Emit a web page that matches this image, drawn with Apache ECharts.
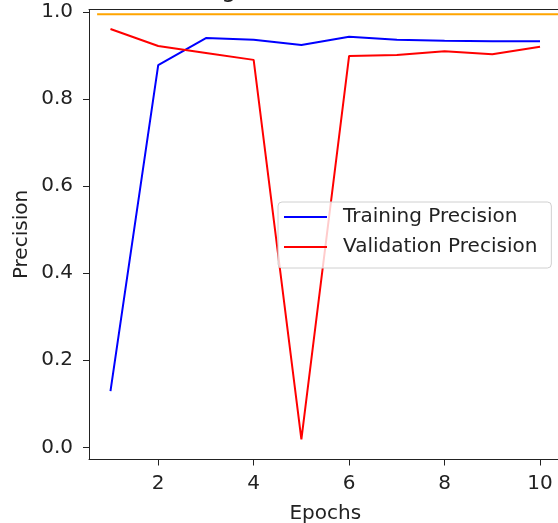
<!DOCTYPE html>
<html>
<head>
<meta charset="utf-8">
<script src="https://cdn.jsdelivr.net/npm/echarts@6/dist/echarts.min.js"></script>
<style>html,body{margin:0;padding:0;background:#fff}#c{width:558px;height:523px}</style>
</head>
<body>
<div id="c"></div>
<script>
const epochs = [1, 2, 3, 4, 5, 6, 7, 8, 9, 10];
const trainingPrecision = [0.129, 0.878, 0.940, 0.936, 0.924, 0.943, 0.936, 0.934, 0.933, 0.933];
const validationPrecision = [0.961, 0.922, 0.906, 0.890, 0.018, 0.899, 0.901, 0.910, 0.903, 0.920];
const thresholdX = [0.72, 10.45];
const thresholdY = [0.995, 0.995];
const xTicks = [2, 4, 6, 8, 10];
const yTicks = [0.0, 0.2, 0.4, 0.6, 0.8, 1.0];
const titleText = 'Training and Validation Precision';

const FONT = 'DejaVu Sans';
const chart = echarts.init(document.getElementById('c'), null, {renderer: 'canvas'});
chart.setOption({
  animation: false,
  backgroundColor: '#fff',
  grid: {left: 89, width: 472.5, top: 9.5, height: 450, show: false, containLabel: false, outerBoundsMode: 'none'},
  graphic: [{
    type: 'text', x: 336, y: 3,
    style: {text: titleText, font: '24px "DejaVu Sans"', fill: '#222', textAlign: 'center', textVerticalAlign: 'bottom'}
  }],
  xAxis: [{
    type: 'value', min: 0.55, max: 10.45,
    name: 'Epochs', nameLocation: 'middle', nameGap: 44,
    nameTextStyle: {fontFamily: FONT, fontSize: 20, color: '#222'},
    axisLine: {show: true, onZero: false, lineStyle: {color: '#222', width: 1}},
    axisTick: {show: true, length: 6, customValues: xTicks, lineStyle: {color: '#222'}},
    axisLabel: {customValues: xTicks, fontFamily: FONT, fontSize: 20, color: '#222', margin: 14, formatter: v => String(v)},
    splitLine: {show: false}
  }, {
    type: 'value', position: 'top', min: 0.55, max: 10.45,
    axisLine: {show: true, onZero: false, lineStyle: {color: '#222', width: 1}},
    axisTick: {show: false}, axisLabel: {show: false}, splitLine: {show: false}
  }],
  yAxis: {
    type: 'value', min: -0.028, max: 1.0057,
    name: 'Precision', nameLocation: 'middle', nameGap: 57, nameMoveOverlap: false,
    nameTextStyle: {fontFamily: FONT, fontSize: 20, color: '#222'},
    axisLine: {show: true, onZero: false, lineStyle: {color: '#222', width: 1}},
    axisTick: {show: true, length: 6, customValues: yTicks, lineStyle: {color: '#222'}},
    axisLabel: {customValues: yTicks, fontFamily: FONT, fontSize: 20, color: '#222', margin: 16, formatter: v => v.toFixed(1)},
    splitLine: {show: false}
  },
  legend: {
    left: 278, top: 202,
    orient: 'vertical',
    padding: [3, 14, 9, 6],
    itemGap: 6,
    itemWidth: 43, itemHeight: 2,
    icon: 'rect',
    backgroundColor: 'rgba(255,255,255,0.8)',
    borderColor: '#d0d0d0', borderWidth: 1, borderRadius: 4,
    textStyle: {fontFamily: FONT, fontSize: 20, color: '#222', lineHeight: 24, padding: [0, 0, 0, 11]},
    data: ['Training Precision', 'Validation Precision']
  },
  series: [
    {
      name: 'Threshold', type: 'line', showSymbol: false, silent: true,
      data: thresholdX.map((x, i) => [x, thresholdY[i]]),
      lineStyle: {color: '#ffa500', width: 2}, itemStyle: {color: '#ffa500'}
    },
    {
      name: 'Training Precision', type: 'line', showSymbol: false,
      data: epochs.map((e, i) => [e, trainingPrecision[i]]),
      lineStyle: {color: '#0000ff', width: 2}, itemStyle: {color: '#0000ff'}
    },
    {
      name: 'Validation Precision', type: 'line', showSymbol: false,
      data: epochs.map((e, i) => [e, validationPrecision[i]]),
      lineStyle: {color: '#ff0000', width: 2}, itemStyle: {color: '#ff0000'}
    }
  ]
});
</script>
</body>
</html>
